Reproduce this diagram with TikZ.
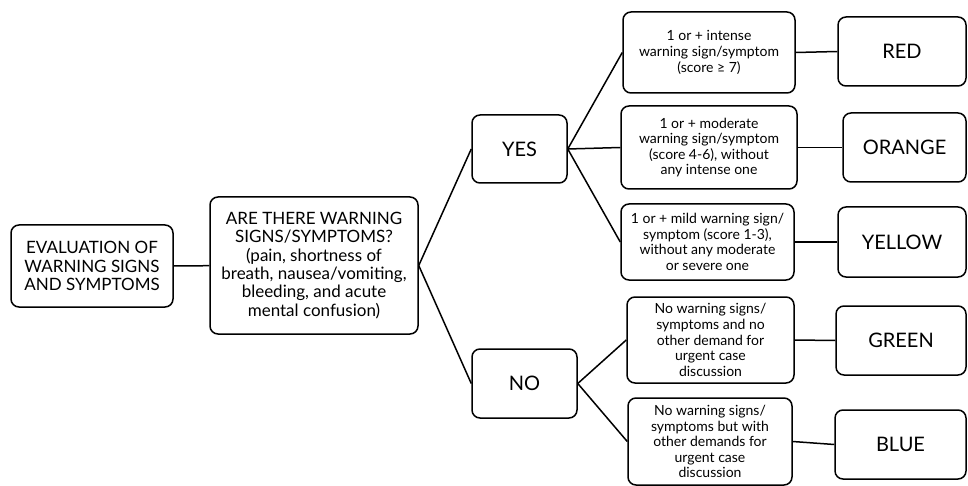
\documentclass[tikz,border=0pt]{standalone}
\usepackage{fontspec}
\setmainfont{Lato}
\usetikzlibrary{calc}

\tikzset{
    box/.style={draw, rounded corners=8pt, align=center, inner sep=0pt},
    sz/.style 2 args={minimum width=#1pt, minimum height=#2pt},
    bigtext/.style={font=\fontsize{17}{18.3}\selectfont},
    hugetext/.style={font=\fontsize{20}{22}\selectfont},
    smalltext/.style={font=\fontsize{14}{15.6}\selectfont}
}

\begin{document}
\begin{tikzpicture}[x=1pt, y=-1pt, line width=1.5pt]

        % keep the page as large as the reference
        \useasboundingbox (0,0) rectangle (968,486);

        % first question
        \node[box, bigtext, sz={162}{82}] (eval) at (92,266) {EVALUATION OF\\WARNING SIGNS\\AND SYMPTOMS};
        \node[box, bigtext, sz={208}{137}] (quest) at (314,265.5) {ARE THERE WARNING\\SIGNS/SYMPTOMS?\\(pain, shortness of\\breath, nausea/vomiting,\\bleeding, and acute\\mental confusion)};

        \node[box, hugetext, sz={95}{68}] (yes) at (519.5,149) {YES};
        \node[box, hugetext, sz={105}{69}] (no) at (524.5,383.5) {NO};

        % conditions
        \node[box, smalltext, sz={172}{81}] (cred) at (709,52.5) {1 or + intense\\warning sign/symptom\\(score ≥ 7)};
        \node[box, smalltext, sz={176}{83}] (corange) at (709,147.5) {1 or + moderate\\warning sign/symptom\\(score 4-6), without\\any intense one};
        \node[box, smalltext, sz={173}{76}] (cyellow) at (707.5,242) {1 or + mild warning sign/\\symptom (score 1-3),\\without any moderate\\or severe one};
        \node[box, smalltext, sz={167}{86}] (cgreen) at (710.5,340) {No warning signs/\\symptoms and no\\other demand for\\urgent case\\discussion};
        \node[box, smalltext, sz={164}{87}] (cblue) at (710,441.5) {No warning signs/\\symptoms but with\\other demands for\\urgent case\\discussion};

        % colour codes
        \node[box, hugetext, sz={128}{69}] (red) at (902,51.5) {RED};
        \node[box, hugetext, sz={123}{69}] (orange) at (904.5,147.5) {ORANGE};
        \node[box, hugetext, sz={128}{70}] (yellow) at (902,242) {YELLOW};
        \node[box, hugetext, sz={130}{69}] (green) at (901,340.5) {GREEN};
        \node[box, hugetext, sz={131}{69}] (blue) at (900.5,444.5) {BLUE};

        \draw (eval) -- (quest);
        \draw (quest.east) -- (yes.west);
        \draw (quest.east) -- (no.west);
        \foreach \c in {cred, corange, cyellow}
                \draw (yes.east) -- (\c.west);
        \foreach \c in {cgreen, cblue}
                \draw (no.east) -- (\c.west);
        \foreach \c/\r in {cred/red, corange/orange, cyellow/yellow, cgreen/green, cblue/blue}
                \draw (\c.east) -- (\r.west);

\end{tikzpicture}
\end{document}
